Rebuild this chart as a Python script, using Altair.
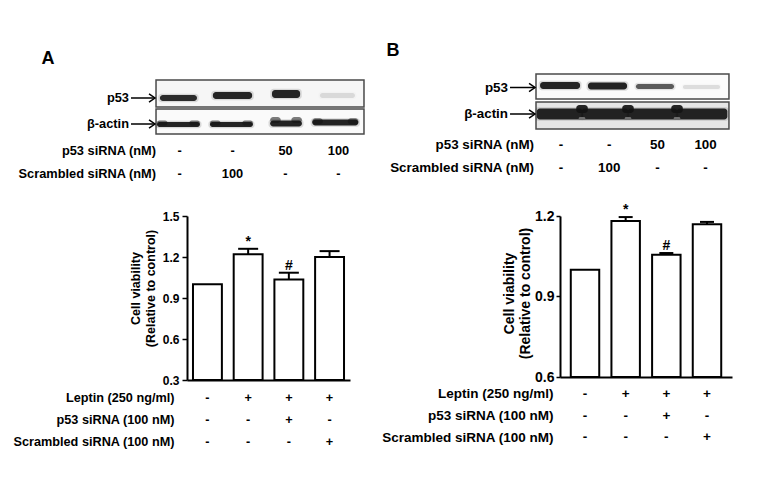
import altair as alt
import pandas as pd

FONT = "Liberation Sans"

# ---------------- data ----------------
lanes = [1, 2, 3, 4]
blot_row_labels = ["p53 siRNA (nM)", "Scrambled siRNA (nM)"]
blot_p53_sirna = ["-", "-", "50", "100"]
blot_scrambled = ["-", "100", "-", "-"]

# relative band darkness read from the blots
p53_band_A = [0.95, 1.0, 1.0, 0.12]
actin_band_A = [1.0, 1.0, 1.0, 1.0]
p53_band_B = [1.0, 1.0, 0.72, 0.12]
actin_band_B = [1.0, 1.0, 1.0, 1.0]

groups = ["Control", "Leptin", "Leptin + p53 siRNA", "Leptin + Scrambled siRNA"]
viability_A = [1.00, 1.22, 1.035, 1.20]
sem_A = [0.0, 0.04, 0.05, 0.043]
viability_B = [1.00, 1.181, 1.056, 1.169]
sem_B = [0.0, 0.015, 0.006, 0.009]
significance = ["", "*", "#", ""]

treat_rows = ["Leptin (250 ng/ml)", "p53 siRNA (100 nM)", "Scrambled siRNA (100 nM)"]
treat_leptin = ["-", "+", "+", "+"]
treat_p53 = ["-", "-", "+", "-"]
treat_scr = ["-", "-", "-", "+"]

yticks_A = [0.3, 0.6, 0.9, 1.2, 1.5]
yticks_B = [0.6, 0.9, 1.2]

# ---------------- layout (blot canvases: x in lane units, y in layout rows) ----------------
LAY_A = dict(
    width=163, xdom=[1.1415, 4.217],
    letter="A", letter_x=-1.481, letter_y=58.5,
    box_x=[0.557, 4.481], p53_box=[80, 107], actin_box=[109, 134],
    p53_fill="#f6f6f6", actin_fill="#fafafa",
    name_x=0.047, arrow_x=[0.085, 0.538], p53_y=98, actin_y=124,
    row_label_x=0.557, row_y=[151, 174], font=12.8,
    p53_dx=[-0.02, 0.0, 0.01, -0.02], p53_w=[0.70, 0.74, 0.53, 0.66],
    p53_yc=[98, 95.5, 94, 95.5], p53_h=[6, 7, 8, 5],
    actin_dx=[-0.02, -0.02, 0.01, -0.06], actin_w=[0.81, 0.81, 0.60, 0.87],
    actin_yc=[124.5, 124.5, 123.5, 122.5], actin_h=[5, 5, 6, 6],
    actin_smile=[1.5, 1.5, 3.5, 1.2],
    humps=[], hump_yc=0, hump_h=0, notch_yc=0, notch_h=0,
)
LAY_B = dict(
    width=172, xdom=[0.979, 4.548],
    letter="B", letter_x=-2.485, letter_y=51,
    box_x=[0.481, 4.485], p53_box=[74, 99], actin_box=[102, 129],
    p53_fill="#fbfbfb", actin_fill="#e6e6e6",
    name_x=-0.0996, arrow_x=[-0.058, 0.461], p53_y=87.5, actin_y=114,
    row_label_x=0.44, row_y=[145, 168], font=13.4,
    p53_dx=[-0.02, -0.035, -0.05, -0.085], p53_w=[0.83, 0.81, 0.79, 0.77],
    p53_yc=[85.5, 86, 86.5, 87], p53_h=[7, 7, 5, 4],
    actin_dx=[-0.027, -0.087, -0.10, -0.074], actin_w=[0.95, 0.97, 1.03, 1.05],
    actin_yc=[114, 114, 114, 114], actin_h=[11, 11, 11, 11],
    actin_smile=[0, 0, 0, 0],
    humps=[1.436, 2.39, 3.407], hump_yc=109, hump_h=8, notch_yc=118.5, notch_h=3,
)


def blot_panel(L, p53_int, actin_int):
    xs = alt.Scale(domain=L["xdom"], nice=False, zero=False)
    ys = alt.Scale(domain=[13, 216], reverse=True, nice=False, zero=False)

    def X(f="x"):
        return alt.X(f"{f}:Q", scale=xs, axis=None)

    def Y(f="y"):
        return alt.Y(f"{f}:Q", scale=ys, axis=None)

    bx0, bx1 = L["box_x"]
    boxes = pd.DataFrame({
        "x": [bx0, bx0], "x2": [bx1, bx1],
        "y": [L["p53_box"][0], L["actin_box"][0]],
        "y2": [L["p53_box"][1], L["actin_box"][1]],
        "fill": [L["p53_fill"], L["actin_fill"]],
    })
    box_layer = alt.Chart(boxes).mark_rect(stroke="#4a4a4a", strokeWidth=1.5).encode(
        x=X(), x2="x2:Q", y=Y(), y2="y2:Q", fill=alt.Fill("fill:N", scale=None))

    rows = []
    for key, ints in (("p53", p53_int), ("actin", actin_int)):
        smiles = L["actin_smile"] if key == "actin" else [0, 0, 0, 0]
        for lane, I, dx, w, yc, h, sm in zip(lanes, ints, L[key + "_dx"], L[key + "_w"],
                                             L[key + "_yc"], L[key + "_h"], smiles):
            c = lane + dx
            rows.append(dict(x=c - w / 2 - 0.03, x2=c + w / 2 + 0.03,
                             y=yc - h / 2 - 1.2, y2=yc + h / 2 + 1.2, op=0.14 * I))
            rows.append(dict(x=c - w / 2, x2=c + w / 2,
                             y=yc - h / 2, y2=yc + h / 2, op=0.92 * I))
            if sm > 0:
                for ex0, ex1 in ((c - w / 2, c - w / 2 + 0.2), (c + w / 2 - 0.2, c + w / 2)):
                    rows.append(dict(x=ex0, x2=ex1, y=yc - h / 2 - sm,
                                     y2=yc + h / 2 - sm, op=0.55 * I))
    for hx in L["humps"]:
        rows.append(dict(x=hx - 0.12, x2=hx + 0.12, y=L["hump_yc"] - L["hump_h"] / 2,
                         y2=L["hump_yc"] + L["hump_h"] / 2, op=0.92))
    bands = pd.DataFrame(rows)
    band_layer = alt.Chart(bands).mark_rect(color="#141414", cornerRadius=3).encode(
        x=X(), x2="x2:Q", y=Y(), y2="y2:Q", opacity=alt.Opacity("op:Q", scale=None))

    layers = [box_layer, band_layer]
    if L["humps"]:
        notches = pd.DataFrame({
            "x": [h - 0.07 for h in L["humps"]], "x2": [h + 0.07 for h in L["humps"]],
            "y": [L["notch_yc"] - L["notch_h"] / 2] * len(L["humps"]),
            "y2": [L["notch_yc"] + L["notch_h"] / 2] * len(L["humps"]),
        })
        layers.append(alt.Chart(notches).mark_rect(color="#6e6e6e", cornerRadius=2).encode(
            x=X(), x2="x2:Q", y=Y(), y2="y2:Q"))

    names = pd.DataFrame({"x": [L["name_x"]] * 2, "y": [L["p53_y"], L["actin_y"]],
                          "t": ["p53", "β-actin"]})
    layers.append(alt.Chart(names).mark_text(
        align="right", baseline="middle", fontSize=L["font"], fontWeight="bold",
        font=FONT, color="black").encode(x=X(), y=Y(), text="t:N"))

    arrows = pd.DataFrame({"x": [L["arrow_x"][0]] * 2, "x2": [L["arrow_x"][1]] * 2,
                           "y": [L["p53_y"], L["actin_y"]]})
    layers.append(alt.Chart(arrows).mark_rule(color="black", strokeWidth=1.5).encode(
        x=X(), x2="x2:Q", y=Y()))
    layers.append(alt.Chart(arrows).mark_point(
        shape="M-2,-1.4L0,0L-2,1.4", filled=False, stroke="black", strokeWidth=1.5,
        size=36, opacity=1).encode(x=X("x2"), y=Y()))

    rl = pd.DataFrame({"x": [L["row_label_x"]] * 2, "y": L["row_y"], "t": blot_row_labels})
    layers.append(alt.Chart(rl).mark_text(
        align="right", baseline="middle", fontSize=L["font"], fontWeight="bold",
        font=FONT, color="black").encode(x=X(), y=Y(), text="t:N"))

    vals = pd.DataFrame({"x": lanes * 2,
                         "y": [L["row_y"][0]] * 4 + [L["row_y"][1]] * 4,
                         "t": blot_p53_sirna + blot_scrambled})
    layers.append(alt.Chart(vals).mark_text(
        align="center", baseline="middle", fontSize=L["font"], fontWeight="bold",
        font=FONT, color="black").encode(x=X(), y=Y(), text="t:N"))

    let = pd.DataFrame({"x": [L["letter_x"]], "y": [L["letter_y"]], "t": [L["letter"]]})
    layers.append(alt.Chart(let).mark_text(
        align="center", baseline="middle", fontSize=18, fontWeight="bold",
        font=FONT, color="black").encode(x=X(), y=Y(), text="t:N"))

    return alt.layer(*layers).properties(width=L["width"], height=203)


def bar_panel(vals, sems, ydom, yticks, width, height, pi, po, cap,
              lab_fs, tick_size, lab_pad, title_fs, title_pad, title_lh, title_y):
    df = pd.DataFrame({"group": groups, "v": vals, "e": sems, "sig": significance})
    df["top"] = df["v"] + df["e"]
    xs = alt.Scale(type="band", paddingInner=pi, paddingOuter=po)
    ys = alt.Scale(domain=ydom, zero=False, nice=False)
    xenc = alt.X("group:N", sort=groups, scale=xs,
                 axis=alt.Axis(labels=False, ticks=False, title=None, domainColor="black",
                               domainWidth=2))
    yaxis = alt.Axis(values=yticks, format=".1f", grid=False, domainColor="black",
                     domainWidth=2, tickColor="black", tickWidth=1.5, tickSize=tick_size,
                     labelFontSize=lab_fs, labelFontWeight="bold", labelColor="black",
                     labelPadding=lab_pad, labelFont=FONT,
                     title=["Cell viability", "(Relative to control)"],
                     titleFontSize=title_fs, titleFontWeight="bold", titleColor="black",
                     titlePadding=title_pad, titleFont=FONT, titleLineHeight=title_lh,
                     titleAlign="center", titleBaseline="bottom", titleY=title_y)
    base = alt.Chart(df)
    bars = base.mark_bar(fill="white", stroke="black", strokeWidth=2).encode(
        x=xenc, y=alt.Y("v:Q", scale=ys, axis=yaxis), y2=alt.datum(ydom[0]))
    errdf = df[df["e"] > 0]
    err_line = alt.Chart(errdf).mark_rule(color="black", strokeWidth=2).encode(
        x=alt.X("group:N", sort=groups, scale=xs), y=alt.Y("v:Q", scale=ys), y2="top:Q")
    err_cap = alt.Chart(errdf).mark_tick(color="black", thickness=2, size=cap, opacity=1).encode(
        x=alt.X("group:N", sort=groups, scale=xs), y=alt.Y("top:Q", scale=ys))
    sig = base.mark_text(dy=-7, fontSize=14, fontWeight="bold", font=FONT,
                         color="black", baseline="middle").encode(
        x=alt.X("group:N", sort=groups, scale=xs), y=alt.Y("top:Q", scale=ys), text="sig:N")
    return alt.layer(bars, err_line, err_cap, sig).properties(width=width, height=height)


def table_panel(width, height, pi, po, ypad, fs, lab_pad):
    recs = []
    for r, vals in zip(treat_rows, [treat_leptin, treat_p53, treat_scr]):
        for g, v in zip(groups, vals):
            recs.append(dict(row=r, group=g, t=v))
    df = pd.DataFrame(recs)
    return alt.Chart(df).mark_text(fontSize=fs, fontWeight="bold", font=FONT,
                                   color="black", baseline="middle").encode(
        x=alt.X("group:N", sort=groups,
                scale=alt.Scale(type="band", paddingInner=pi, paddingOuter=po), axis=None),
        y=alt.Y("row:N", sort=treat_rows, scale=alt.Scale(type="point", padding=ypad),
                axis=alt.Axis(title=None, domain=False, ticks=False, labelFontSize=fs,
                              labelFontWeight="bold", labelColor="black", labelFont=FONT,
                              labelPadding=lab_pad, labelLimit=0)),
        text="t:N",
    ).properties(width=width, height=height)


blotA = blot_panel(LAY_A, p53_band_A, actin_band_A)
blotB = blot_panel(LAY_B, p53_band_B, actin_band_B)
barsA = bar_panel(viability_A, sem_A, [0.3, 1.5], yticks_A, 163, 164, 0.29, 0.147, 20,
                  12, 5, 3, 12.5, 5, 15, 72)
barsB = bar_panel(viability_B, sem_B, [0.6, 1.2], yticks_B, 172, 161, 0.30, 0.265, 14,
                  14, 4, 2, 14, 2, 16, 77)
tableA = table_panel(163, 79.5, 0.29, 0.147, 0.787, 12.7, 13)
tableB = table_panel(172, 71, 0.30, 0.265, 0.614, 13.5, 7)

chart = alt.concat(
    blotA, blotB, barsA, barsB, tableA, tableB,
    columns=2, spacing={"row": 0, "column": 210}, bounds="flush", align="each",
).properties(
    padding={"left": 4, "top": 5, "right": 5, "bottom": 5},
    background="white",
).configure(font=FONT).configure_view(stroke=None, strokeWidth=0)

chart.save("out.html", embed_options={"renderer": "svg", "actions": False})
